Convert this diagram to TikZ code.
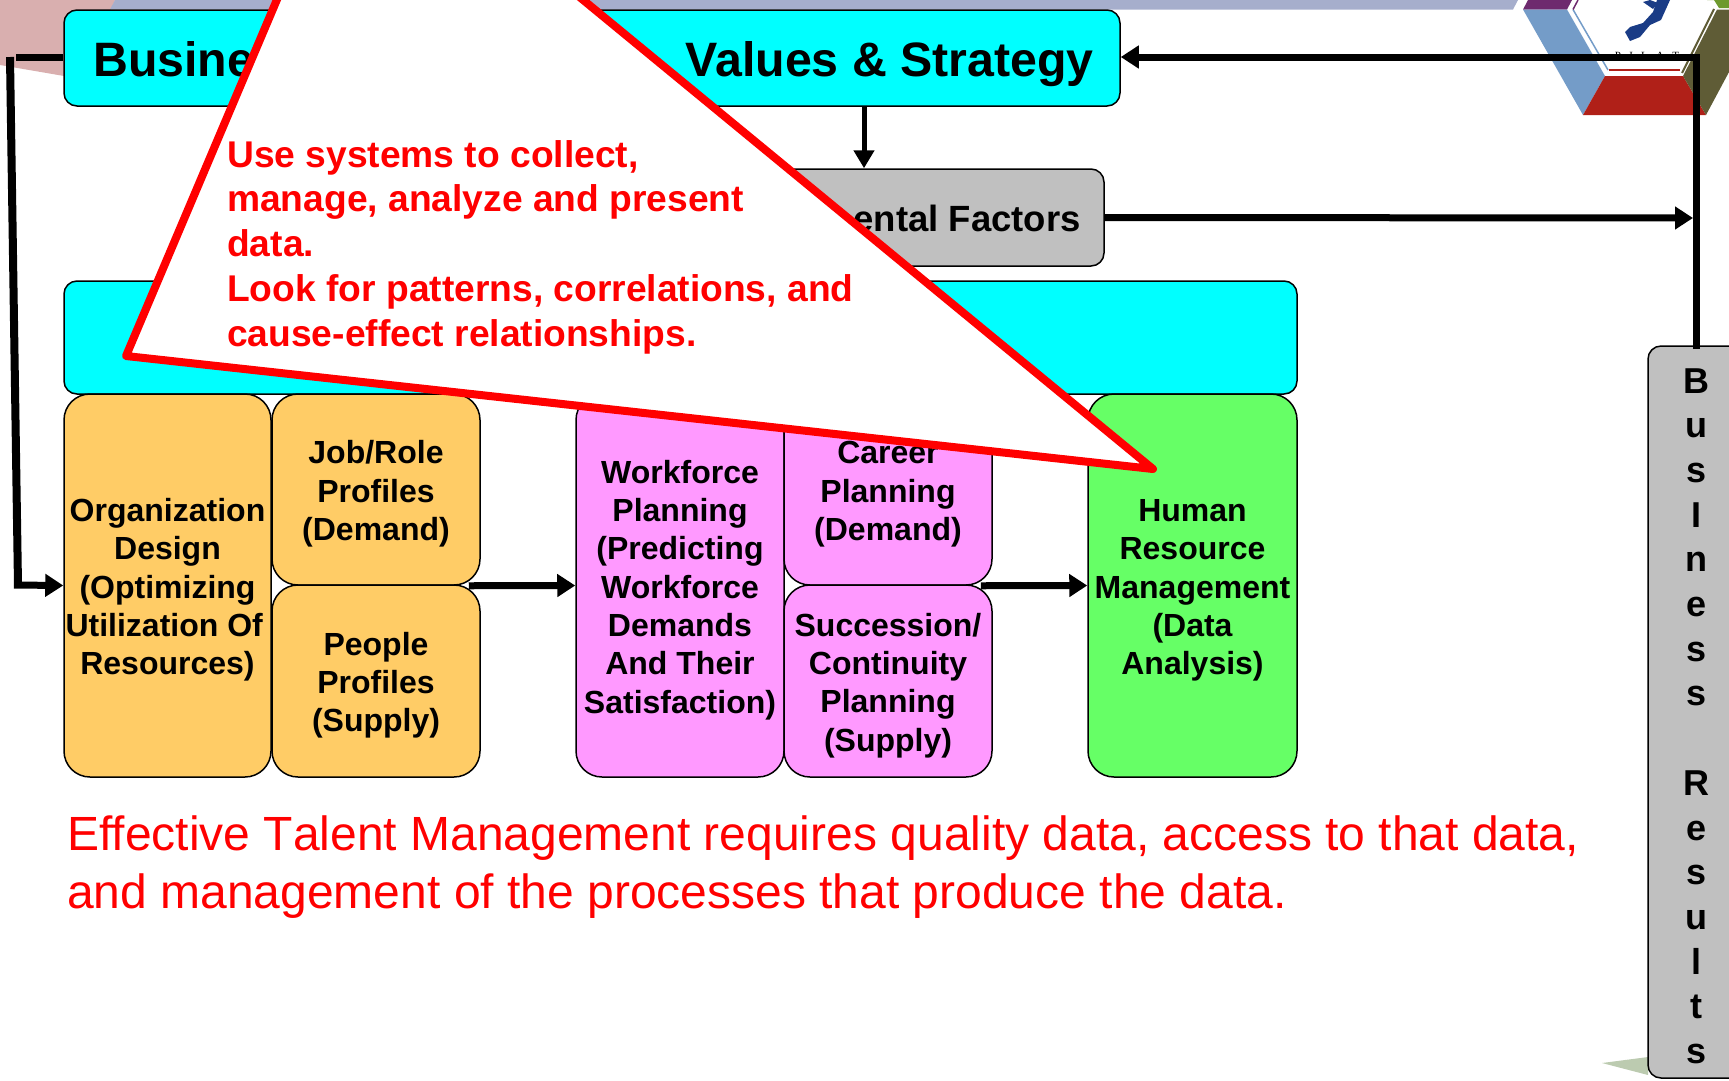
\documentclass[tikz,border=0pt]{standalone}
\usepackage{fontspec}
\setmainfont{Liberation Sans}[Ligatures=NoCommon]
\newfontfamily\logofont{Liberation Serif}
\usetikzlibrary{arrows.meta}
\definecolor{tmcyan}{HTML}{00FFFF}
\definecolor{tmorange}{HTML}{FFCC66}
\definecolor{tmpink}{HTML}{FF99FF}
\definecolor{tmgreen}{HTML}{66FF66}
\definecolor{tmgrey}{HTML}{C0C0C0}
\definecolor{tmband}{HTML}{A6AECC}
\definecolor{tmrose}{HTML}{D9AFAF}
\definecolor{tmpurple}{HTML}{6E2A6E}
\definecolor{tmsteel}{HTML}{749CC8}
\definecolor{tmbrick}{HTML}{B02018}
\definecolor{tmolive}{HTML}{5F5C36}
\definecolor{tmleaf}{HTML}{6E9A2E}
\definecolor{tmnavy}{HTML}{1A3C86}
\definecolor{tmsage}{HTML}{BCCBB0}
\newcommand{\tmdrop}{\rule{0pt}{32pt}}
\tikzset{
  tmbox/.style={draw=black,line width=1.5pt,rounded corners=26pt,inner sep=0pt,align=center,
    font=\fontsize{32}{38.3}\selectfont\bfseries},
  flatbox/.style={draw=black,line width=1.5pt,rounded corners=13pt,inner sep=0pt,align=center},
  fatline/.style={line width=7pt},
  fatarrow/.style={line width=7pt,-{Triangle[length=18pt,width=22pt]}},
  bigtext/.style={font=\fontsize{48.3}{56}\selectfont\bfseries,inner sep=0pt},
  midtext/.style={font=\fontsize{36.5}{44}\selectfont\bfseries,inner sep=0pt}
}
\begin{document}
\begin{tikzpicture}[x=1pt,y=-1pt]
  \clip (0,0) rectangle (1729,1080);
  % backdrop
  \fill[tmrose] (0,0) -- (115,0) -- (105,22) -- (64,76) -- (0,65) -- cycle;
  \fill[tmband] (115,0) -- (1518,0) -- (1513,9.5) -- (110,9.5) -- cycle;
  \fill[tmpurple] (1523,9.5) -- (1528,0) -- (1572,0) -- (1567,9.5) -- cycle;
  \fill[tmsteel] (1523,9.5) -- (1567,9.5) -- (1605,76) -- (1583,115) -- cycle;
  \fill[tmbrick] (1583,115) -- (1605,76) -- (1683,76) -- (1706,115) -- cycle;
  \fill[tmolive] (1683,76) -- (1717,9.5) -- (1729,9.5) -- (1729,72) -- (1706,115) -- cycle;
  \fill[tmleaf] (1707,0) -- (1714,0) -- (1719,8) -- (1729,8) -- (1729,0) -- cycle;
  \draw[tmsteel,line width=1.5pt] (1573,9.5) -- (1608,70);
  \draw[tmpurple,line width=1.5pt] (1573,9.5) -- (1578,0);
  \draw[tmbrick,line width=2.5pt] (1609,70) -- (1680,70);
  \draw[tmolive,line width=2pt] (1682,73) -- (1714,9);
  \fill[tmnavy] (1670,0) -- (1661,20) -- (1650,25) -- (1640,37) -- (1630,41) -- (1625,32) -- (1630,27)
    -- (1643,23) -- (1653,12) -- (1657,0) -- cycle;
  \fill[tmnavy] (1643,2) -- (1653,9) -- (1658,3) -- (1650,0) -- cycle;
  \node[font=\logofont\fontsize{11}{11}\selectfont,inner sep=0pt] (logoname) at (1647,56) {P\ \ \ I\ \ \ L\ \ \ A\ \ \ T};
  \fill[tmsage] (1602,1063) -- (1648,1057) -- (1648,1075) -- cycle;

  \node[flatbox,fill=tmcyan,minimum width=1056pt,minimum height=96pt] (strategy) at (592,58) {};
  \node[bigtext,anchor=base west] (strategyleft) at (93,76) {Busine};
  \node[bigtext,anchor=base east] (strategyright) at (1094,76) {Values \& Strategy};
  \node[flatbox,fill=tmgrey,minimum width=480pt,minimum height=97pt] (environment) at (864,217.5) {};
  \node[midtext,anchor=east] (environmenttext) at (1081,218) {ental Factors};
  \node[flatbox,fill=tmcyan,minimum width=1233pt,minimum height=113pt] (outcomes) at (680.5,337.5) {};

  \node[tmbox,fill=tmorange,minimum width=207pt,minimum height=383pt] (orgdesign) at (167.5,585.5)
    {\tmdrop Organization\\Design\\(Optimizing\\Utilization Of\rule{6.6pt}{0pt}\\Resources)};
  \node[tmbox,fill=tmorange,minimum width=208pt,minimum height=191pt] (jobrole) at (376,489.5)
    {\tmdrop Job/Role\\Profiles\\(Demand)};
  \node[tmbox,fill=tmorange,minimum width=208pt,minimum height=192pt] (people) at (376,681)
    {\tmdrop People\\Profiles\\(Supply)};
  \node[tmbox,fill=tmpink,minimum width=208pt,minimum height=383pt] (workforce) at (680,585.5)
    {\tmdrop Workforce\\Planning\\(Predicting\\Workforce\\Demands\\And Their\\Satisfaction)};
  \node[tmbox,fill=tmpink,minimum width=208pt,minimum height=191pt] (career) at (888,489.5)
    {\tmdrop Career\\Planning\\(Demand)};
  \node[tmbox,fill=tmpink,minimum width=208pt,minimum height=192pt] (succession) at (888,681)
    {\tmdrop Succession/\\Continuity\\Planning\\(Supply)};
  \node[tmbox,fill=tmgreen,minimum width=209pt,minimum height=383pt] (hrm) at (1192.5,585.5)
    {\tmdrop Human\\Resource\\Management\\(Data\\Analysis)};

  \node[flatbox,fill=tmgrey,minimum width=96pt,minimum height=732pt,font=\fontsize{36}{44.7}\selectfont\bfseries] (results) at (1696,712)
    {\rule{0pt}{33pt}B\\u\\s\\I\\n\\e\\s\\s\\\mbox{}\\R\\e\\s\\u\\l\\t\\s};

  % connectors
  \coordinate (feedtop) at (16,57);
  \coordinate (feedbend) at (10,57);
  \coordinate (feedfoot) at (18,585);
  \coordinate (resultscorner) at (1696,57);
  \draw[fatline] (strategy.west |- feedtop) -- (feedtop);
  \draw[line width=8pt] (feedbend) -- (feedfoot);
  \draw[fatarrow] ([xshift=-4pt]feedfoot) -- (orgdesign.west);
  \draw[fatline,line cap=rect] (results.north -| resultscorner) -- (resultscorner);
  \draw[fatarrow] (resultscorner) -- (strategy.east |- resultscorner);
  \draw[line width=5pt,-{Triangle[length=18pt,width=20pt]}] (strategy.south -| environment.north) -- (environment.north);
  \draw[fatarrow] (environment.east) -- (1693,218);
  \draw[fatarrow] (jobrole.south east) ++(-12,0) -- (workforce.west);
  \draw[fatarrow] (career.south east) ++(-12,0) -- (hrm.west);

  % callout
  \draw[red,line width=8pt,line join=round,fill=white] (126,356) -- (356,-187) -- (1153,469) -- cycle;
  \node[anchor=north west,inner sep=0pt,align=left,text=red,font=\fontsize{37.2}{44.8}\selectfont\bfseries] (callouttext) at (227,140)
    {Use systems to collect,\\manage, analyze and present\\data.\\Look for patterns, correlations, and\\cause-effect relationships.};

  \node[anchor=north west,inner sep=0pt,align=left,text=red,font=\fontsize{48}{58}\selectfont] (closing) at (67,816)
    {Effective T\kern0pt alent Management requires quality data, access to that data,\\and management of the processes that produce the data.};
\end{tikzpicture}
\end{document}
